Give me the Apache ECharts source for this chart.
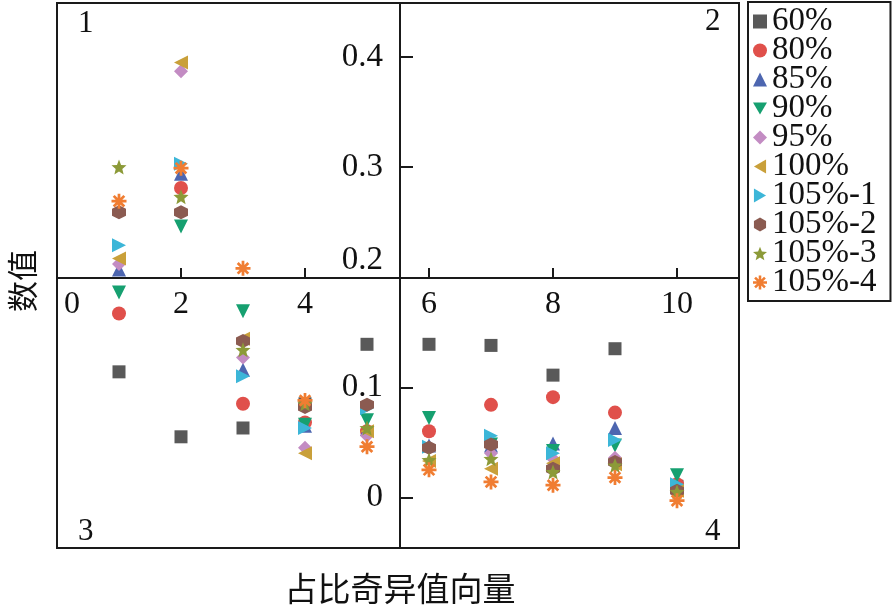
<!DOCTYPE html>
<html><head><meta charset="utf-8">
<script src="https://cdn.jsdelivr.net/npm/echarts@6/dist/echarts.min.js"></script>
<style>html,body{margin:0;padding:0;background:#fff}#c{width:894px;height:608px}</style>
</head><body><div id="c"></div>
<script>
// ---- data ----
const xValues = [1, 2, 3, 4, 5, 6, 7, 8, 9, 10];
const seriesNames = ['60%', '80%', '85%', '90%', '95%', '100%', '105%-1', '105%-2', '105%-3', '105%-4'];
const v60   = [0.114, 0.055, 0.063, 0.085, 0.139, 0.139, 0.138, 0.111, 0.135, 0.010];
const v80   = [0.167, 0.281, 0.085, 0.068, 0.060, 0.060, 0.084, 0.091, 0.077, 0.012];
const v85   = [0.207, 0.294, 0.116, 0.065, 0.062, 0.047, 0.047, 0.049, 0.063, 0.011];
const v90   = [0.186, 0.246, 0.169, 0.066, 0.070, 0.072, 0.048, 0.042, 0.047, 0.020];
const v95   = [0.212, 0.387, 0.127, 0.045, 0.056, 0.045, 0.040, 0.035, 0.036, 0.008];
const v100  = [0.217, 0.395, 0.144, 0.040, 0.060, 0.033, 0.026, 0.031, 0.030, 0.006];
const v105a = [0.229, 0.303, 0.110, 0.063, 0.081, 0.046, 0.056, 0.040, 0.052, 0.012];
const v105b = [0.259, 0.259, 0.142, 0.082, 0.084, 0.045, 0.048, 0.026, 0.032, 0.006];
const v105c = [0.300, 0.273, 0.134, 0.085, 0.063, 0.034, 0.035, 0.023, 0.029, 0.005];
const v105d = [0.269, 0.299, 0.208, 0.088, 0.046, 0.025, 0.014, 0.011, 0.018, -0.003];
const xTickValues = [0, 2, 4, 6, 8, 10];
const yTickValues = [0, 0.1, 0.2, 0.3, 0.4];
const quadrantLabels = ['1', '2', '3', '4'];
const xTitle = '占比奇异值向量';
const yTitle = '数值';

// ---- styles ----
const allValues = [v60, v80, v85, v90, v95, v100, v105a, v105b, v105c, v105d];
const colors = ['#595959', '#e0504b', '#4d66b0', '#16a070', '#c38cc3', '#c9a03a', '#3cb6d8', '#8b5b51', '#8c9a38', '#f07d32'];
const symbols = [
  'rect',
  'circle',
  'triangle',
  'path://M0,0L10,0L5,8.66Z',
  'diamond',
  'path://M8.66,0L8.66,10L0,5Z',
  'path://M0,0L0,10L8.66,5Z',
  'path://M5,0L9.33,2.5L9.33,7.5L5,10L0.67,7.5L0.67,2.5Z',
  'path://M5,0L6.29,3.22L9.76,3.45L7.09,5.68L7.94,9.05L5,7.2L2.06,9.05L2.91,5.68L0.24,3.45L3.71,3.22Z',
  'path://M0,4.9L12,4.9L12,7.1L0,7.1ZM4.9,0L7.1,0L7.1,12L4.9,12ZM2.54,0.98L11.02,9.46L9.46,11.02L0.98,2.54ZM11.02,2.54L2.54,11.02L0.98,9.46L9.46,0.98Z'
];
const symbolSizes = [13, 14, 14, 14, 14, 14, 14, 14, 15, 15];
const serif = 'Liberation Serif';
const ink = '#1a1a1a';

const series = seriesNames.map((name, k) => ({
  name: name,
  type: 'scatter',
  symbol: symbols[k],
  symbolSize: symbolSizes[k],
  itemStyle: { color: colors[k], opacity: 1 },
  data: xValues.map((x, i) => [x, allValues[k][i]])
}));

const chart = echarts.init(document.getElementById('c'), null, { renderer: 'canvas' });
chart.setOption({
  animation: false,
  backgroundColor: '#fff',
  grid: {
    left: 57, top: 3, width: 682, height: 545,
    show: true, borderColor: ink, borderWidth: 2,
    containLabel: false, outerBoundsMode: 'none'
  },
  xAxis: {
    type: 'value', min: 0, max: 11, position: 'bottom', offset: -270,
    axisLine: { show: true, onZero: false, lineStyle: { color: ink, width: 2 } },
    axisTick: { show: true, inside: true, length: 10, customValues: xTickValues, lineStyle: { color: ink, width: 2 } },
    axisLabel: {
      customValues: xTickValues, margin: 11, fontSize: 32, fontFamily: serif, color: '#111',
      formatter: v => v === 0 ? '{s|0}' : String(v),
      rich: { s: { padding: [0, 0, 0, 30], fontSize: 32, fontFamily: serif, color: '#111' } }
    },
    splitLine: { show: false }
  },
  yAxis: {
    type: 'value', min: -0.046, max: 0.449, position: 'left', offset: -343,
    axisLine: { show: true, onZero: false, lineStyle: { color: ink, width: 2 } },
    axisTick: { show: true, inside: true, length: 13, customValues: [0, 0.1, 0.3, 0.4], lineStyle: { color: ink, width: 2 } },
    axisLabel: {
      customValues: yTickValues, margin: 17, fontSize: 33, fontFamily: serif, color: '#111',
      formatter: v => Math.abs(v - 0.2) < 1e-9 ? '{s|0.2}' : String(v),
      rich: { s: { padding: [0, 0, 34, 0], fontSize: 33, fontFamily: serif, color: '#111' } }
    },
    splitLine: { show: false }
  },
  legend: {
    orient: 'vertical', left: 748, top: 2,
    padding: [3, 14, 2, 5],
    itemWidth: 14, itemHeight: 14, itemGap: -4, itemTextGap: 20,
    borderColor: ink, borderWidth: 2,
    textStyle: { fontFamily: serif, fontSize: 33, color: '#111' },
    data: seriesNames
  },
  graphic: [
    { type: 'text', left: 78, top: 8, style: { text: quadrantLabels[0], font: '31px "Liberation Serif"', fill: '#111' } },
    { type: 'text', left: 705, top: 6, style: { text: quadrantLabels[1], font: '31px "Liberation Serif"', fill: '#111' } },
    { type: 'text', left: 78, top: 516, style: { text: quadrantLabels[2], font: '31px "Liberation Serif"', fill: '#111' } },
    { type: 'text', left: 705, top: 516, style: { text: quadrantLabels[3], font: '31px "Liberation Serif"', fill: '#111' } },
    { type: 'text', x: 400, y: 588, style: { text: xTitle, font: '33px "Noto Sans CJK SC"', fill: '#111', align: 'center', verticalAlign: 'middle' } },
    { type: 'text', x: 22, y: 281, rotation: Math.PI / 2, style: { text: yTitle, font: '31px "Noto Sans CJK SC"', fill: '#111', align: 'center', verticalAlign: 'middle' } }
  ],
  series: series
});
</script>
</body></html>
